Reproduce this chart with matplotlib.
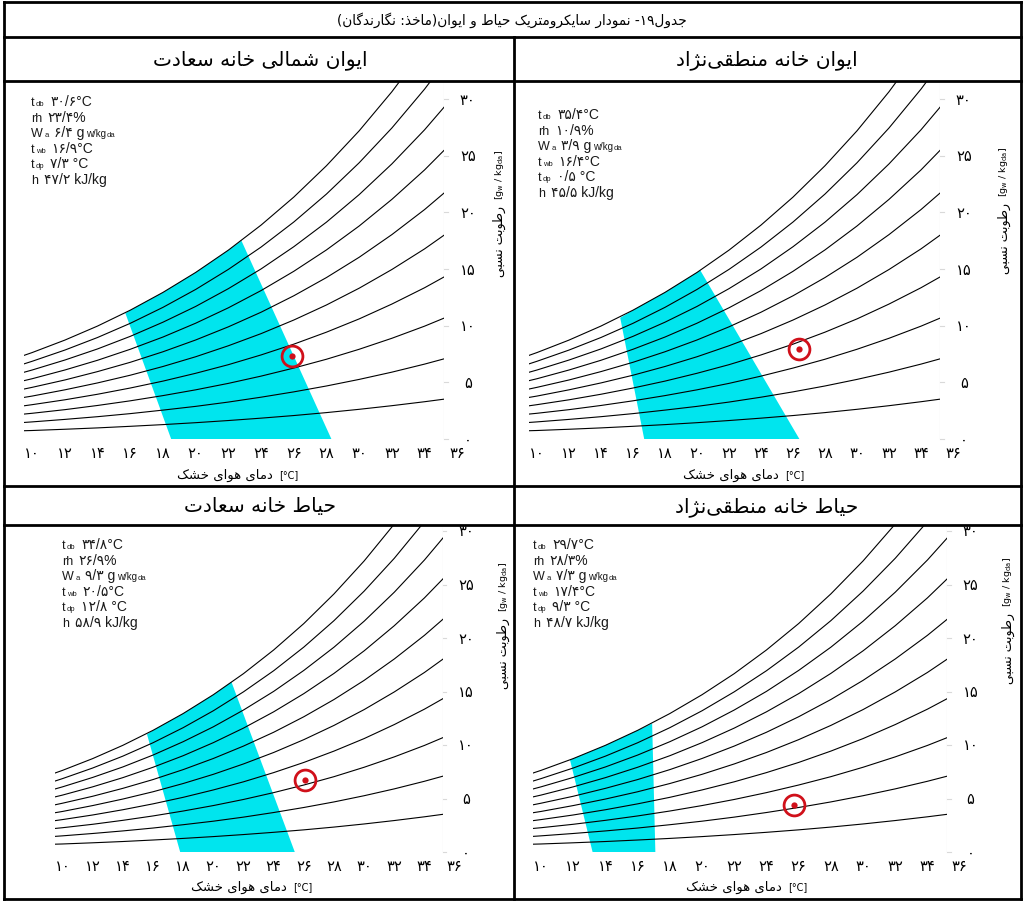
import re

import matplotlib
matplotlib.use("Agg")
import matplotlib.pyplot as plt
from matplotlib.lines import Line2D
from matplotlib.patches import Polygon
from matplotlib.offsetbox import TextArea, HPacker, AnnotationBbox
from matplotlib.transforms import Bbox, TransformedBbox

plt.rcParams['font.family'] = ['DejaVu Sans']

FIG_W, FIG_H = 1025, 904

# dry-bulb grid of the chart [°C] and the relative humidity lines drawn on it [%]
t_grid = [9.5, 10, 12, 14, 16, 18, 20, 22, 24, 26, 28, 30, 32, 34, 36]
rh_levels = [10, 20, 30, 40, 50, 60, 70, 80, 90, 100]
# humidity ratio along each rh line [g_w / kg_da]
w_lines = [
    [0.73, 0.75, 0.86, 0.98, 1.12, 1.27, 1.44, 1.63, 1.84, 2.07, 2.33, 2.62, 2.94, 3.29, 3.67],
    [1.46, 1.51, 1.73, 1.97, 2.24, 2.55, 2.88, 3.26, 3.69, 4.16, 4.68, 5.26, 5.90, 6.61, 7.39],
    [2.20, 2.27, 2.59, 2.96, 3.37, 3.83, 4.34, 4.91, 5.55, 6.26, 7.04, 7.92, 8.89, 9.96, 11.15],
    [2.93, 3.03, 3.46, 3.95, 4.50, 5.11, 5.80, 6.56, 7.42, 8.37, 9.43, 10.60, 11.91, 13.35, 14.95],
    [3.67, 3.79, 4.34, 4.95, 5.63, 6.40, 7.26, 8.23, 9.30, 10.50, 11.83, 13.31, 14.96, 16.78, 18.81],
    [4.41, 4.56, 5.21, 5.95, 6.77, 7.70, 8.74, 9.90, 11.19, 12.64, 14.25, 16.04, 18.04, 20.25, 22.70],
    [5.15, 5.32, 6.09, 6.95, 7.92, 9.00, 10.22, 11.58, 13.10, 14.80, 16.69, 18.80, 21.15, 23.75, 26.65],
    [5.89, 6.09, 6.97, 7.95, 9.06, 10.31, 11.70, 13.27, 15.01, 16.97, 19.14, 21.57, 24.28, 27.29, 30.64],
    [6.63, 6.86, 7.85, 8.96, 10.21, 11.62, 13.20, 14.97, 16.94, 19.15, 21.62, 24.38, 27.45, 30.88, 34.69],
    [7.38, 7.63, 8.73, 9.97, 11.37, 12.94, 14.70, 16.67, 18.88, 21.35, 24.12, 27.20, 30.65, 34.49, 38.78],
]
x_ticks = list(range(10, 37, 2))
y_ticks = [0, 5, 10, 15, 20, 25, 30]

table_title = 'جدول۱۹- نمودار سایکرومتریک حیاط و ایوان(ماخذ: نگارندگان)'
panel_titles = ['ایوان شمالی خانه سعادت', 'ایوان خانه منطقی\u200cنژاد',
                'حیاط خانه سعادت', 'حیاط خانه منطقی\u200cنژاد']
x_title = 'دمای هوای خشک'
y_title = 'رطوبت نسبی'

# comfort zone corners: bottom-left, bottom-right, top-right, top-left
zone_t = [[18.5, 28.3, 22.8, 15.7],
          [16.7, 26.4, 20.2, 15.2],
          [17.8, 25.4, 21.2, 15.6],
          [13.2, 17.1, 16.9, 11.8]]
zone_w = [[0, 0, 17.5, 11.1],
          [0, 0, 14.9, 10.7],
          [0, 0, 15.9, 11.0],
          [0, 0, 12.0, 8.6]]

# selected state marked on each chart
point_t = [25.9, 26.4, 26.1, 25.7]
point_w = [7.3, 7.9, 6.7, 4.4]

# cursor read-out printed in the corner of each chart
t_db = [30.6, 35.4, 34.8, 29.7]
rh = [23.4, 10.9, 26.9, 28.3]
w_a = [6.4, 3.9, 9.3, 7.3]
t_wb = [16.9, 16.4, 20.5, 17.4]
t_dp = [7.3, 0.5, 12.8, 9.3]
enthalpy = [47.2, 45.5, 58.9, 48.7]

CYAN = '#00E5EE'
RED = '#D0101A'
INFO_FONT = ['Liberation Sans', 'DejaVu Sans']

# --- persian text helpers ---------------------------------------------
RIGHT_JOIN = {'ا': 0xFE8D, 'آ': 0xFE81, 'د': 0xFEA9, 'ذ': 0xFEAB, 'ر': 0xFEAD,
              'ز': 0xFEAF, 'ژ': 0xFB8A, 'و': 0xFEED}
DUAL_JOIN = {'ب': 0xFE8F, 'پ': 0xFB56, 'ت': 0xFE95, 'ث': 0xFE99, 'ج': 0xFE9D,
             'چ': 0xFB7A, 'ح': 0xFEA1, 'خ': 0xFEA5, 'س': 0xFEB1, 'ش': 0xFEB5,
             'ص': 0xFEB9, 'ض': 0xFEBD, 'ط': 0xFEC1, 'ظ': 0xFEC5, 'ع': 0xFEC9,
             'غ': 0xFECD, 'ف': 0xFED1, 'ق': 0xFED5, 'ک': 0xFB8E, 'گ': 0xFB92,
             'ل': 0xFEDD, 'م': 0xFEE1, 'ن': 0xFEE5, 'ه': 0xFEE9, 'ی': 0xFBFC}
MIRROR = str.maketrans('()[]', ')(][')
FA_DIGITS = str.maketrans('0123456789', '۰۱۲۳۴۵۶۷۸۹')


def fa(text):
    """Join letters into their contextual forms and lay the string out right to left."""
    out = []
    for i, ch in enumerate(text):
        prev = text[i - 1] if i > 0 else ''
        nxt = text[i + 1] if i + 1 < len(text) else ''
        joins_prev = prev in DUAL_JOIN
        if ch in DUAL_JOIN:
            joins_next = nxt in DUAL_JOIN or nxt in RIGHT_JOIN
            off = {(True, True): 3, (True, False): 1, (False, True): 2, (False, False): 0}
            out.append(chr(DUAL_JOIN[ch] + off[(joins_prev, joins_next)]))
        elif ch in RIGHT_JOIN:
            out.append(chr(RIGHT_JOIN[ch] + (1 if joins_prev else 0)))
        elif ch != '\u200c':
            out.append(ch)
    runs = re.findall(r'[0-9\u06F0-\u06F9]+|.', ''.join(out))
    return ''.join(reversed(runs)).translate(MIRROR)


def fa_num(v, decimals=1):
    s = f'{v:.{decimals}f}' if decimals else f'{v:d}'
    return s.replace('.', '/').translate(FA_DIGITS)


# --- figure and table frame -------------------------------------------
fig = plt.figure(figsize=(FIG_W / 100, FIG_H / 100), dpi=100)


def fx(x):
    return x / FIG_W


def fy(y):
    return 1 - y / FIG_H


def rule(xs, ys, lw=2.0):
    fig.add_artist(Line2D([fx(x) for x in xs], [fy(y) for y in ys],
                          color='black', lw=lw, zorder=20, solid_capstyle='projecting'))


LEFT, RIGHT, TOP, BOTTOM = 4, 1021, 3, 900
MID = 514
ROWS = [38, 82, 487, 526]
rule([LEFT, RIGHT], [TOP, TOP])
rule([LEFT, RIGHT], [BOTTOM, BOTTOM])
rule([LEFT, LEFT], [TOP, BOTTOM])
rule([RIGHT, RIGHT], [TOP, BOTTOM])
for yr in ROWS:
    rule([LEFT, RIGHT], [yr, yr])
rule([MID, MID], [ROWS[0], BOTTOM])

fig.text(fx(512), fy(20), fa(table_title), ha='center', va='center', fontsize=9.8)

# pixel layout of each chart: x of 9.5 °C, px per °C, y of zero, px per g/kg, top edge
panels = [
    dict(x0=24, sx=16.35, y0=440, sy=11.33, top=ROWS[1], cell=(LEFT, MID, ROWS[1], ROWS[2]),
         head=(260, 60), info=(31, 102), xt=(276, 475), yt=(499, 203)),
    dict(x0=529, sx=16.0, y0=440, sy=11.33, top=ROWS[1], cell=(MID, RIGHT, ROWS[1], ROWS[2]),
         head=(767, 60), info=(538, 115), xt=(782, 475), yt=(1004, 200)),
    dict(x0=55, sx=15.08, y0=853, sy=10.7, top=ROWS[3], cell=(LEFT, MID, ROWS[3], BOTTOM),
         head=(260, 507), info=(62, 545), xt=(290, 887), yt=(503, 615)),
    dict(x0=533, sx=16.1, y0=853, sy=10.7, top=ROWS[3], cell=(MID, RIGHT, ROWS[3], BOTTOM),
         head=(767, 507), info=(533, 545), xt=(785, 887), yt=(1008, 610)),
]
T_LEFT, T_RIGHT = 9.5, 35.2

for p, pan in enumerate(panels):
    fig.text(fx(pan['head'][0]), fy(pan['head'][1]), fa(panel_titles[p]),
             ha='center', va='center', fontsize=14.5)

    x_right = pan['x0'] + (T_RIGHT - T_LEFT) * pan['sx']
    ax = fig.add_axes([fx(pan['x0']), fy(pan['y0']),
                       (x_right - pan['x0']) / FIG_W, (pan['y0'] - pan['top']) / FIG_H])
    ax.set_xlim(T_LEFT, T_RIGHT)
    ax.set_ylim(0, (pan['y0'] - pan['top']) / pan['sy'])
    ax.set_axis_off()

    cx0, cx1, cy0, cy1 = pan['cell']
    cell_clip = TransformedBbox(Bbox([[fx(cx0), fy(cy1)], [fx(cx1), fy(cy0)]]), fig.transFigure)

    # comfort zone, its upper edge running along the saturation line
    zt, zw = zone_t[p], zone_w[p]
    verts = [(zt[0], zw[0]), (zt[1], zw[1]), (zt[2], zw[2])]
    verts += [(t, w) for t, w in zip(t_grid[::-1], w_lines[-1][::-1]) if zt[3] < t < zt[2]]
    verts.append((zt[3], zw[3]))
    ax.add_patch(Polygon(verts, closed=True, facecolor=CYAN, edgecolor='none', zorder=1))

    for row in w_lines:
        ax.plot(t_grid, row, color='black', lw=0.8, zorder=2)

    ax.axvline(T_RIGHT, color='#d9d9d9', lw=0.8, zorder=0)

    for t in x_ticks:
        ax.annotate(fa_num(t, 0), (t, 0), xytext=(0, -4), textcoords='offset points',
                    ha='center', va='top', fontsize=10.5, annotation_clip=False)
    for w in y_ticks:
        ax.plot([T_RIGHT, T_RIGHT + 0.25], [w, w], color='#d9d9d9', lw=0.8,
                clip_on=False, zorder=0)
        lab = ax.annotate(fa_num(w, 0), (T_RIGHT, w), xytext=(17, 0), textcoords='offset points',
                          ha='center', va='center', fontsize=10.5, annotation_clip=False)
        lab.set_clip_box(cell_clip)
        lab.set_clip_on(True)

    ax.plot(point_t[p], point_w[p], 'o', ms=15, mfc='none', mec=RED, mew=2, zorder=5)
    ax.plot(point_t[p], point_w[p], 'o', ms=4.5, color=RED, mec='none', zorder=5)

    # axis titles
    xa, ya = pan['xt']
    fig.text(fx(xa - 3), fy(ya), fa(x_title), ha='right', va='center', fontsize=9.5)
    fig.text(fx(xa + 3), fy(ya), '[°C]', ha='left', va='center', fontsize=7)
    xa, ya = pan['yt']
    fig.text(fx(xa), fy(ya + 3), fa(y_title), rotation=90, rotation_mode='anchor',
             ha='right', va='center', fontsize=9)
    fig.text(fx(xa), fy(ya - 3), r'$[\mathrm{g_w\ /\ kg_{da}}]$', rotation=90,
             rotation_mode='anchor', ha='left', va='center', fontsize=6.8)

    # read-out block in the corner
    lines = [
        ('t', 'db', [(fa_num(t_db[p]) + '°C', 10)]),
        ('rh', '', [(fa_num(rh[p]) + '%', 10)]),
        ('W', 'a', [(fa_num(w_a[p]) + ' g', 10), ('w/kg', 7), ('da', 5.5)]),
        ('t', 'wb', [(fa_num(t_wb[p]) + '°C', 10)]),
        ('t', 'dp', [(fa_num(t_dp[p]) + ' °C', 10)]),
        ('h', '', [(fa_num(enthalpy[p]) + ' kJ/kg', 10)]),
    ]
    ix, iy = pan['info']
    for k, (sym, sub, parts) in enumerate(lines):
        style = dict(family=INFO_FONT, color='#1a1a1a')
        kids = [TextArea(sym, textprops=dict(fontsize=9, **style))]
        if sub:
            kids.append(TextArea(sub, textprops=dict(fontsize=5.5, **style)))
        kids.append(TextArea(' ', textprops=dict(fontsize=7, **style)))
        for text, size in parts:
            kids.append(TextArea(text, textprops=dict(fontsize=size, **style)))
        box = HPacker(children=kids, align='baseline', pad=0, sep=1)
        fig.add_artist(AnnotationBbox(box, (fx(ix), fy(iy + k * 15.6)),
                                      xycoords='figure fraction', box_alignment=(0, 0.5),
                                      frameon=False, pad=0))

fig.savefig('out.png', dpi=100)
